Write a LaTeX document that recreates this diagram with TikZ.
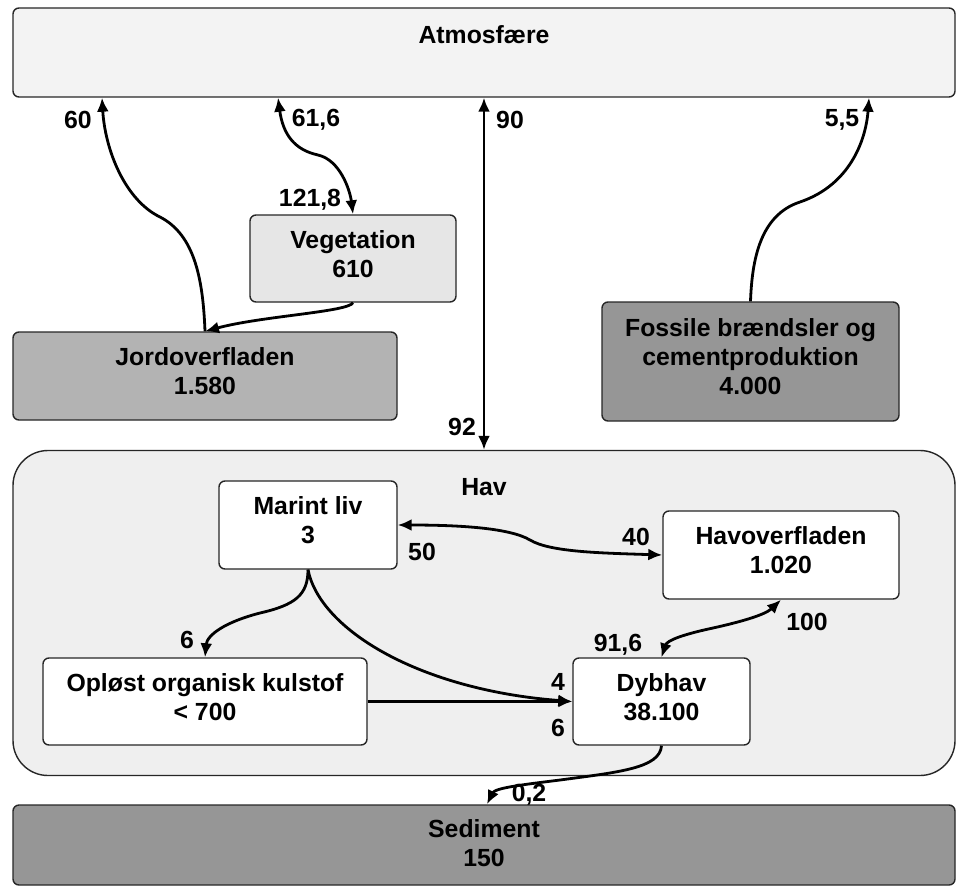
\documentclass[tikz,border=0pt]{standalone}
\usepackage{fontspec}
\setmainfont{Liberation Sans}
\usetikzlibrary{arrows.meta}
\definecolor{atmfill}{HTML}{F3F3F3}
\definecolor{havfill}{HTML}{EFEFEF}
\definecolor{vegfill}{HTML}{E6E6E6}
\definecolor{jordfill}{HTML}{B3B3B3}
\definecolor{darkfill}{HTML}{969696}
\begin{document}
\begin{tikzpicture}[x=1pt,y=-1pt,
  every node/.style={font=\fontsize{24.8}{29}\selectfont\bfseries, text=black},
  box/.style={draw=black!85, line width=1.4pt, rounded corners=6pt, inner sep=0pt, align=center, text depth=9pt},
  flow/.style={line width=2.8pt, -{Latex[length=14pt,width=12pt]}},
  flowb/.style={line width=2.8pt, {Latex[length=14pt,width=12pt]}-{Latex[length=14pt,width=12pt]}},
  lab/.style={inner sep=0pt}]
\useasboundingbox (0,0) rectangle (957,888);

% big containers
\node[box, fill=atmfill, minimum width=942pt, minimum height=89pt] (atm) at (484,52.5) {};
\node[lab] (atmT) at (484,35) {Atmosfære};
\node[box, fill=havfill, rounded corners=35pt, minimum width=942pt, minimum height=325pt] (hav) at (484,613) {};
\node[lab] (havT) at (484,487) {Hav};
\node[box, fill=darkfill, minimum width=942pt, minimum height=80pt, text depth=4pt] (sed) at (484,845) {Sediment\\150};

% boxes
\node[box, fill=vegfill, minimum width=206pt, minimum height=87pt] (veg) at (353,258.5) {Vegetation\\610};
\node[box, fill=jordfill, minimum width=384pt, minimum height=88pt] (jord) at (205,376) {Jordoverfladen\\1.580};
\node[box, fill=darkfill, minimum width=297pt, minimum height=119pt] (fos) at (750.5,361.5) {Fossile brændsler og\\cementproduktion\\4.000};
\node[box, fill=white, minimum width=178pt, minimum height=88pt] (ml) at (308,525) {Marint liv\\3};
\node[box, fill=white, minimum width=236pt, minimum height=88pt] (hov) at (781,555) {Havoverfladen\\1.020};
\node[box, fill=white, minimum width=324pt, minimum height=87pt] (opl) at (205,701.5) {Opløst organisk kulstof\\< 700};
\node[box, fill=white, minimum width=177pt, minimum height=87pt] (dyb) at (661.5,701.5) {Dybhav\\38.100};

% connectors
\draw[flow] (jord.north) .. controls (203,280) and (195,235) .. (160,217)
  .. controls (125,200) and (105,150) .. ([xshift=-382pt]atm.south);
\draw[flowb] ([xshift=-206pt]atm.south) .. controls (283,135) and (295,150) .. (318,155)
  .. controls (340,160) and (350,190) .. (veg.north);
\draw[flow] (veg.south) .. controls (348,312) and (262,316) .. (jord.north);
\draw[flowb] (atm.south) -- (hav.north);
\draw[flow] (fos.north) .. controls (752,260) and (760,215) .. (800,202)
  .. controls (850,185) and (866,140) .. ([xshift=385pt]atm.south);
\draw[flowb] (ml.east) .. controls (460,525) and (510,528) .. (530,540)
  .. controls (550,552) and (600,553) .. (hov.west);
\draw[flowb] (hov.south) .. controls (765,615) and (740,622) .. (713,628)
  .. controls (685,634) and (667,640) .. (dyb.north);
\draw[flow] (ml.south) .. controls (308,595) and (295,605) .. (260,613)
  .. controls (225,622) and (207,635) .. (opl.north);
\draw[flow] (ml.south) .. controls (320,630) and (420,690) .. (dyb.west);
\draw[flow] (opl.east) -- (dyb.west);
\draw[flow] (dyb.south) .. controls (660,768) and (620,772) .. (560,780)
  .. controls (520,785) and (495,788) .. ([xshift=3pt]sed.north);

% labels
\node[lab] (l60) at (78,120) {60};
\node[lab] (l616) at (316,120) {61,6};
\node[lab] (l1218) at (310,200) {121,8};
\node[lab] (l90) at (510,120) {90};
\node[lab] (l55) at (842,120) {5,5};
\node[lab] (l92) at (462,427) {92};
\node[lab] (l50) at (422,552) {50};
\node[lab] (l40) at (636,537) {40};
\node[lab] (l100) at (807,622) {100};
\node[lab] (l916) at (618,645) {91,6};
\node[lab] (l4) at (558,682) {4};
\node[lab] (l6b) at (558,728) {6};
\node[lab] (l6a) at (187,640) {6};
\node[lab] (l02) at (529,795) {0,2};
\end{tikzpicture}
\end{document}
